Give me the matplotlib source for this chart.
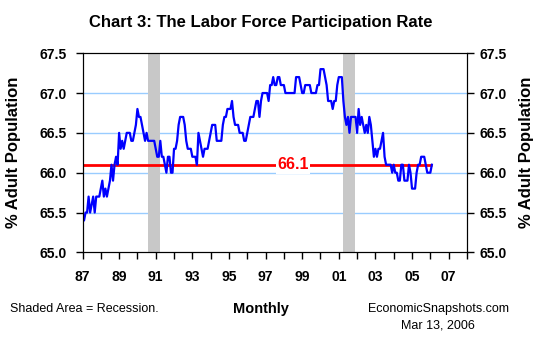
import numpy as np
import matplotlib
matplotlib.use("Agg")
import matplotlib.pyplot as plt
from matplotlib.ticker import MultipleLocator, FixedLocator

plt.rcParams['font.family'] = ['Liberation Sans', 'DejaVu Sans']

# monthly labor force participation rate, Jan 1987 - Feb 2006
lfpr = [
    65.4, 65.4, 65.5, 65.5, 65.7, 65.5, 65.6, 65.7, 65.5, 65.7, 65.7, 65.7,  # 1987
    65.8, 65.9, 65.7, 65.8, 65.7, 65.8, 65.9, 66.1, 65.9, 66.1, 66.2, 66.1,  # 1988
    66.5, 66.3, 66.4, 66.3, 66.4, 66.5, 66.5, 66.5, 66.4, 66.4, 66.5, 66.6,  # 1989
    66.8, 66.7, 66.7, 66.6, 66.5, 66.4, 66.5, 66.4, 66.4, 66.4, 66.4, 66.4,  # 1990
    66.3, 66.2, 66.2, 66.4, 66.2, 66.2, 66.1, 66.0, 66.2, 66.2, 66.0, 66.0,  # 1991
    66.3, 66.3, 66.4, 66.6, 66.7, 66.7, 66.7, 66.6, 66.4, 66.3, 66.3, 66.3,  # 1992
    66.2, 66.2, 66.2, 66.1, 66.5, 66.4, 66.3, 66.2, 66.3, 66.3, 66.3, 66.4,  # 1993
    66.5, 66.6, 66.6, 66.6, 66.4, 66.4, 66.4, 66.4, 66.6, 66.7, 66.7, 66.8,  # 1994
    66.8, 66.8, 66.9, 66.7, 66.6, 66.6, 66.6, 66.5, 66.5, 66.5, 66.4, 66.4,  # 1995
    66.5, 66.6, 66.7, 66.7, 66.7, 66.8, 66.9, 66.9, 66.7, 66.9, 67.0, 67.0,  # 1996
    67.0, 67.0, 66.9, 67.1, 67.1, 67.2, 67.1, 67.1, 67.2, 67.2, 67.1, 67.1,  # 1997
    67.1, 67.0, 67.0, 67.0, 67.0, 67.0, 67.0, 67.0, 67.2, 67.2, 67.2, 67.1,  # 1998
    67.0, 67.0, 67.1, 67.1, 67.1, 67.1, 67.0, 67.0, 67.0, 67.0, 67.1, 67.1,  # 1999
    67.3, 67.3, 67.3, 67.2, 67.1, 66.9, 66.9, 66.9, 66.8, 66.9, 66.9, 67.1,  # 2000
    67.2, 67.2, 67.2, 66.9, 66.7, 66.6, 66.7, 66.5, 66.7, 66.7, 66.7, 66.7,  # 2001
    66.5, 66.8, 66.6, 66.7, 66.6, 66.5, 66.6, 66.5, 66.7, 66.6, 66.4, 66.2,  # 2002
    66.3, 66.2, 66.3, 66.3, 66.4, 66.5, 66.2, 66.1, 66.1, 66.1, 66.1, 66.0,  # 2003
    66.1, 66.0, 66.0, 65.9, 65.9, 66.1, 66.1, 65.9, 65.9, 65.9, 66.1, 66.0,  # 2004
    65.8, 65.8, 65.8, 66.0, 66.1, 66.1, 66.2, 66.2, 66.2, 66.1, 66.0, 66.0,  # 2005
    66.0, 66.1,                                                              # 2006
]
start_year = 1987
average = 66.1
recessions = [(1990.58, 1991.21), (2001.21, 2001.87)]
year_labels = ['87', '89', '91', '93', '95', '97', '99', '01', '03', '05', '07']

x = start_year + np.arange(len(lfpr)) / 12.0

fig = plt.figure(figsize=(5.5, 3.5), dpi=100)
ax = fig.add_axes([0.150, 0.279, 0.699, 0.569])

for r0, r1 in recessions:
    ax.axvspan(r0, r1, color='#c8c8c8', lw=0, zorder=1)

for g in [65.5, 66.0, 66.5, 67.0]:
    ax.axhline(g, color='#99ccff', lw=1, zorder=0)

ax.plot(x, lfpr, color='#0000ff', lw=1.6, zorder=3)
ax.hlines(average, x[0], x[-1], color='#ff0000', lw=2, zorder=2)
ax.text(1998.5, average, f'{average:.1f}', color='#ff0000', fontsize=11.5,
        fontweight='bold', ha='center', va='center', zorder=4,
        bbox=dict(facecolor='white', edgecolor='none', pad=1))

ax.set_xlim(1987, 2008)
ax.set_ylim(65.0, 67.5)
ax.xaxis.set_major_locator(FixedLocator(np.arange(1987, 2008, 2)))
ax.set_xticklabels(year_labels)
ax.xaxis.set_minor_locator(MultipleLocator(1))
ax.yaxis.set_major_locator(MultipleLocator(0.5))
ax.yaxis.set_major_formatter(plt.FormatStrFormatter('%.1f'))
ax.tick_params(axis='both', which='both', direction='out', length=5, width=1,
               labelsize=10)
ax.tick_params(axis='x', pad=8)
ax.tick_params(axis='y', pad=6)
for lab in ax.get_xticklabels() + ax.get_yticklabels():
    lab.set_fontweight('bold')
ax.set_ylabel('% Adult Population', fontsize=12, fontweight='bold')
ax.yaxis.set_label_coords(-0.159, 0.5)

ax2 = ax.twinx()
ax2.set_ylim(ax.get_ylim())
ax2.yaxis.set_major_locator(MultipleLocator(0.5))
ax2.yaxis.set_major_formatter(plt.FormatStrFormatter('%.1f'))
ax2.tick_params(axis='y', direction='out', length=5, width=1, labelsize=10,
                pad=4)
for lab in ax2.get_yticklabels():
    lab.set_fontweight('bold')
ax2.set_ylabel('% Adult Population', fontsize=12, fontweight='bold',
               rotation=90, va='center')
ax2.yaxis.set_label_coords(1.154, 0.5)

fig.text(0.4745, 0.937, 'Chart 3: The Labor Force Participation Rate',
         fontsize=12, fontweight='bold', ha='center', va='center')
fig.text(0.018, 0.117, 'Shaded Area = Recession.', fontsize=9, va='center')
fig.text(0.474, 0.117, 'Monthly', fontsize=10.5, fontweight='bold',
         ha='center', va='center')
fig.text(0.797, 0.117, 'EconomicSnapshots.com', fontsize=9, ha='center',
         va='center')
fig.text(0.797, 0.071, 'Mar 13, 2006', fontsize=9, ha='center', va='center')

fig.savefig('out.png', dpi=100)
